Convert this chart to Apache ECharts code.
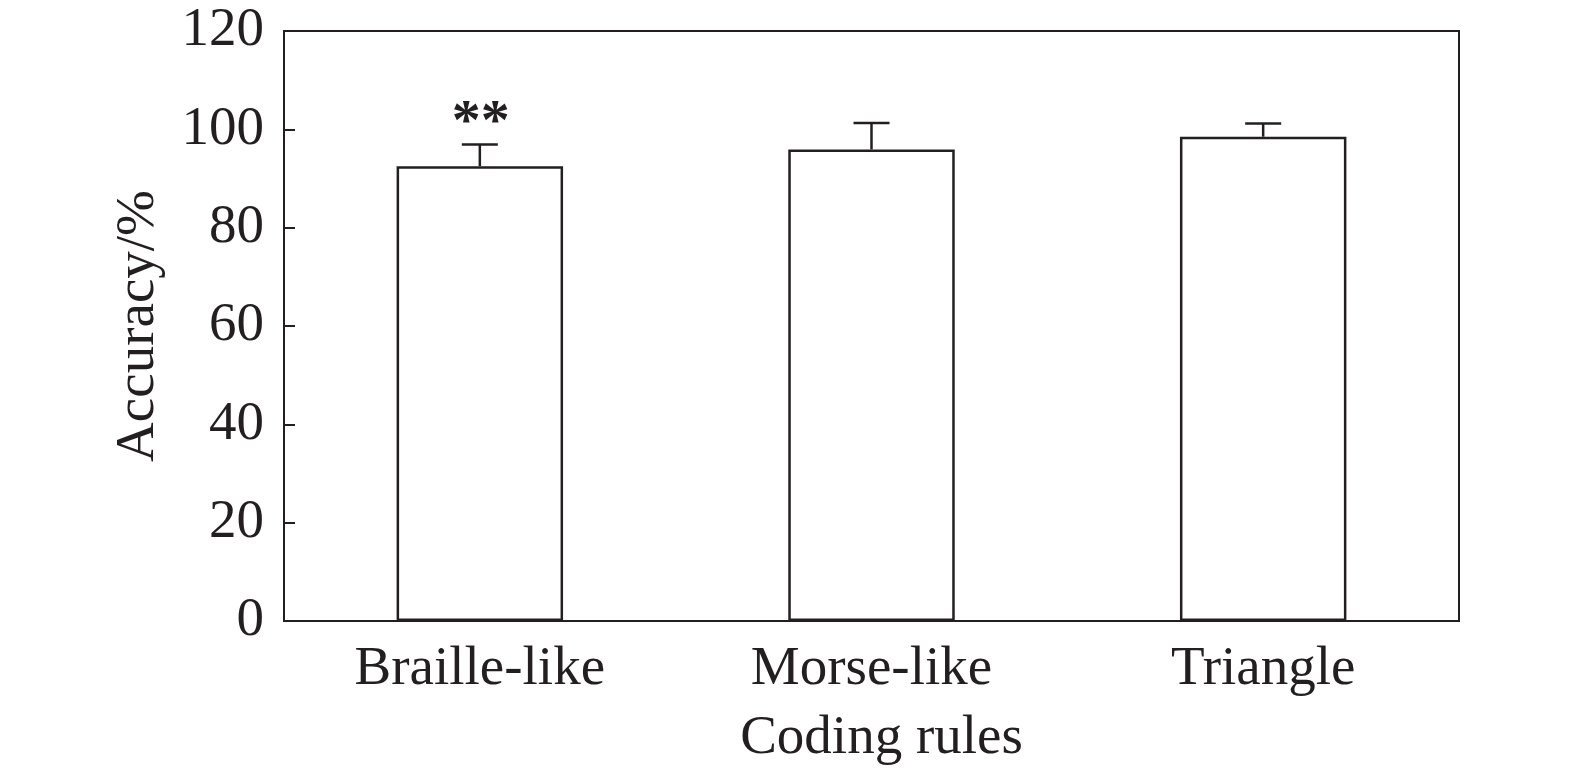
<!DOCTYPE html>
<html><head><meta charset="utf-8">
<script src="https://cdn.jsdelivr.net/npm/echarts@6/dist/echarts.min.js"></script>
<style>html,body{margin:0;padding:0;background:#fff;overflow:hidden}#c{width:100vw;height:100vh}</style>
</head><body><div id="c"></div>
<script>
const categories = ['Braille-like', 'Morse-like', 'Triangle'];
const accuracy = [92.5, 95.9, 98.5];
const errorTop = [96.9, 101.3, 101.2];
const significance = ['**', '', ''];
const yTicks = [0, 20, 40, 60, 80, 100, 120];

const ink = '#231f20';
const font = 'Liberation Serif, Times New Roman, serif';
const chart = echarts.init(document.getElementById('c'));
chart.setOption({
  animation: false,
  grid: { left: 284, right: 116, top: 31, bottom: 157, show: true, borderColor: ink, borderWidth: 2, backgroundColor: 'transparent' },
  xAxis: {
    type: 'category', data: categories,
    axisLine: { lineStyle: { color: ink, width: 2 } },
    axisTick: { show: false },
    axisLabel: { color: ink, fontFamily: font, fontSize: 55, margin: 21 },
    name: 'Coding rules', nameLocation: 'middle', nameGap: 90,
    nameTextStyle: { color: ink, fontFamily: font, fontSize: 55, padding: [0, 0, 0, 20] }
  },
  yAxis: {
    type: 'value', min: yTicks[0], max: yTicks[yTicks.length - 1], interval: 20,
    axisLine: { show: true, lineStyle: { color: ink, width: 2 } },
    axisTick: { show: true, inside: true, length: 11, lineStyle: { color: ink, width: 2 } },
    splitLine: { show: false },
    axisLabel: { color: ink, fontFamily: font, fontSize: 55, margin: 20 },
    name: 'Accuracy/%', nameLocation: 'middle', nameGap: 118,
    nameTextStyle: { color: ink, fontFamily: font, fontSize: 55 }
  },
  series: [
    {
      type: 'bar', data: accuracy, barWidth: '42.5%',
      itemStyle: { color: '#ffffff', borderColor: ink, borderWidth: 2.5 },
      z: 2
    },
    {
      type: 'custom', z: 3,
      data: categories.map((c, i) => [i, accuracy[i], errorTop[i]]),
      renderItem: function (params, api) {
        const x = api.coord([api.value(0), api.value(1)]);
        const top = api.coord([api.value(0), api.value(2)]);
        const half = 18;
        const children = [
          { type: 'line', shape: { x1: x[0], y1: x[1], x2: top[0], y2: top[1] }, style: { stroke: ink, lineWidth: 2.5 } },
          { type: 'line', shape: { x1: top[0] - half, y1: top[1], x2: top[0] + half, y2: top[1] }, style: { stroke: ink, lineWidth: 2.5 } }
        ];
        const s = significance[params.dataIndex];
        if (s) {
          children.push({ type: 'text', style: { text: s, x: top[0] + 1, y: top[1] + 8, align: 'center', verticalAlign: 'bottom', fill: ink, font: 'bold 58px ' + font } });
        }
        return { type: 'group', children: children };
      }
    }
  ]
});
</script></body></html>
